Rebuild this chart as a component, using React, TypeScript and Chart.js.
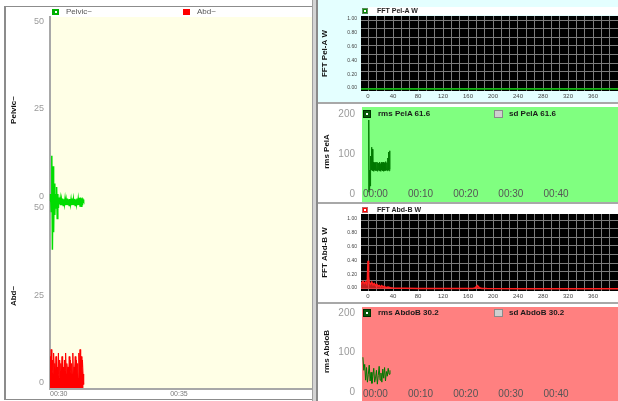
import React, { useEffect, useRef } from 'react';
import { Chart, registerables } from 'chart.js';

Chart.register(...registerables);
const FONT = '"Liberation Sans", Arial, Helvetica, sans-serif';
Chart.defaults.font.family = FONT;

// ---------------- data ----------------
// Left panel: Pelvic~ and Abd~ raw signals (time in seconds)
const leftTimeTicks = [30, 35];
const leftTimeLabels = ['00:30', '00:35'];
const leftValueTicks = [0, 25, 50];
const leftValueLabels = ['0', '25', '50'];
const sampleStart = 30;
const sampleStep = 0.025;
const pelvicValues = [
  0, 2, -3, 13, -14, 10, -9, 5, -4, 2, -2, 4, -5, 2, -2, 1, -1,
  0.6, -1.2, 0.4, -1.0, 0.7, -1.3, 0.5, -0.9, 0.6, -1.2,
  0.3, -1.1, 0.7, -1.0, 0.5, -1.3, 0.6, -0.9, 0.4, -1.2,
  0.7, -1.1, 0.5, -1.0, 0.6, -1.3, 0.4, -0.9, 0.7, -1.2,
  0.5, -1.1, 0.9, -1.4, 1.0, -1.5, 0.8, -1.2, 0.4, 0,
];
const abdValues = [
  9, 4, 11, 5, 8, 4, 10, 6, 7, 4,
  9, 5, 6, 4, 10, 3, 8, 5, 7, 4,
  9, 5, 6, 3, 8, 5, 10, 4, 7, 5,
  6, 3, 9, 5, 8, 4, 7, 4, 10, 3,
  6, 5, 9, 4, 8, 4, 7, 3, 10, 5,
  11, 5, 9, 6, 8, 4, 1,
];

// FFT panels
const fftFreqTicks = [0, 40, 80, 120, 160, 200, 240, 280, 320, 360];
const fftFreqLabels = ['0', '40', '80', '120', '160', '200', '240', '280', '320', '360'];
const fftPowerTicks = [0, 0.2, 0.4, 0.6, 0.8, 1];
const fftPowerLabels = ['0.00', '0.20', '0.40', '0.60', '0.80', '1.00'];
const fftPelFreq = [-12, 0, 100, 200, 300, 400];
const fftPelPower = [0, 0, 0, 0, 0, 0];
const fftAbdFreq = [
  -12, -10, -8, -6, -4, -2, -1, 0, 1, 2,
  4, 6, 8, 10, 12, 14, 16, 18, 20, 22,
  24, 26, 28, 32, 36, 40, 50, 60, 80, 100,
  140, 168, 172, 175, 178, 182, 190, 240, 300, 400,
];
const fftAbdPower = [
  0.06, 0.09, 0.11, 0.08, 0.1, 0.07, 0.15, 0.41, 0.18, 0.09,
  0.07, 0.1, 0.06, 0.08, 0.05, 0.07, 0.04, 0.05, 0.03, 0.05,
  0.03, 0.04, 0.02, 0.03, 0.02, 0.015, 0.01, 0.012, 0.008, 0.008,
  0.006, 0.008, 0.02, 0.05, 0.02, 0.008, 0.006, 0.005, 0.004, 0.004,
];

// RMS panels
const rmsTimeTicks = [0, 10, 20, 30, 40];
const rmsTimeLabels = ['00:00', '00:10', '00:20', '00:30', '00:40'];
const rmsValueTicks = [0, 100, 200];
const rmsValueLabels = ['0', '100', '200'];
const rmsPelStart = 1.2;
const rmsPelStep = 0.1;
const rmsPelValues = [
  5, 185, 10, 60, 20, 95, 60, 117,
  60, 112, 58,
  80, 57, 78, 60, 79, 58, 76, 59, 80, 57, 78, 60, 77, 58, 80, 59,
  76, 57, 79, 60, 78, 58, 80, 57, 77, 59, 79, 58, 81, 60, 78, 58,
  90, 60, 105, 58, 108, 62,
];
const rmsAbdStart = 0;
const rmsAbdStep = 0.2;
const rmsAbdValues = [
  88, 55, 70, 30, 62, 25, 45, 68, 28, 50,
  22, 40, 60, 25, 35, 55, 20, 42, 65, 30,
  48, 25, 58, 35, 62, 28, 52, 40, 60, 45, 55,
];

// ---------------- helpers ----------------
const series = (start: number, step: number, values: number[]) =>
  values.map((v, i) => ({ x: start + i * step, y: v }));
const pairs = (xs: number[], ys: number[]) => xs.map((x, i) => ({ x, y: ys[i] }));
const setTicks = (arr: number[]) => (s: any) => { s.ticks = arr.map((v) => ({ value: v })); };
const labelOf = (labels: string[]) => (_v: any, i: number) => (labels[i] ?? '');
const fixW = (w: number) => (s: any) => { s.width = w; s.paddingTop = 0; s.paddingBottom = 0; s.paddingLeft = 0; s.paddingRight = 0; };
const fixH = (h: number) => (s: any) => { s.height = h; s.paddingTop = 0; s.paddingBottom = 0; s.paddingLeft = 0; s.paddingRight = 0; };

const areaBg = {
  id: 'areaBg',
  beforeDraw(chart: any, _args: any, opts: any) {
    const a = chart.chartArea;
    if (!a || !opts || !opts.color) return;
    const ctx = chart.ctx;
    ctx.save();
    ctx.fillStyle = opts.color;
    const bottom = opts.toBottom ? chart.height : a.bottom;
    ctx.fillRect(a.left, a.top, a.right - a.left, bottom - a.top);
    ctx.restore();
  },
};

const baseOpts = {
  animation: false,
  responsive: false,
  devicePixelRatio: 1,
  events: [],
};

function buildLeft(): any {
  return {
    type: 'line',
    data: {
      datasets: [
        { data: series(sampleStart, sampleStep, pelvicValues), xAxisID: 'x', yAxisID: 'yP', borderColor: '#00DC00', borderWidth: 1.5, pointRadius: 0, fill: false, clip: false },
        { data: series(sampleStart, sampleStep, abdValues), xAxisID: 'x', yAxisID: 'yA', borderColor: '#FF0000', backgroundColor: '#FF0000', borderWidth: 1, pointRadius: 0, fill: 'origin' },
      ],
    },
    plugins: [areaBg],
    options: {
      ...baseOpts,
      layout: { padding: { top: 10, left: 0, right: 0, bottom: 0 } },
      plugins: { legend: { display: false }, tooltip: { enabled: false }, areaBg: { color: '#FFFFE6' } },
      scales: {
        x: {
          type: 'linear', min: 30, max: 40.9,
          afterBuildTicks: setTicks(leftTimeTicks),
          ticks: { autoSkip: false, maxRotation: 0, align: 'start', color: '#7a7a7a', font: { size: 7 }, padding: 1, callback: labelOf(leftTimeLabels) },
          grid: { display: false, drawTicks: false },
          border: { display: true, color: '#A8A8A8', width: 2 },
          afterFit: fixH(10),
        },
        yP: {
          type: 'linear', position: 'left', stack: 'lv', stackWeight: 1, weight: 2,
          min: -0.57, max: 52.87,
          afterBuildTicks: setTicks(leftValueTicks),
          ticks: { color: '#9a9a9a', font: { size: 9 }, padding: 6, labelOffset: -5, callback: labelOf(leftValueLabels) },
          grid: { display: false, drawTicks: false },
          border: { display: true, color: '#A8A8A8', width: 2 },
          title: { display: true, text: 'Pelvic~', color: '#111', font: { size: 8, weight: 'bold' }, padding: { top: 3, bottom: 0 } },
          afterFit: fixW(44),
        },
        yA: {
          type: 'linear', position: 'left', stack: 'lv', stackWeight: 1, weight: 1,
          min: -0.29, max: 52.86,
          afterBuildTicks: setTicks(leftValueTicks),
          ticks: { color: '#9a9a9a', font: { size: 9 }, padding: 6, labelOffset: -5, callback: labelOf(leftValueLabels) },
          grid: { display: false, drawTicks: false },
          border: { display: true, color: '#A8A8A8', width: 2 },
          title: { display: true, text: 'Abd~', color: '#111', font: { size: 8, weight: 'bold' }, padding: { top: 3, bottom: 0 } },
          afterFit: fixW(44),
        },
      },
    },
  };
}

function buildFft(freq: number[], power: number[], line: string, fillColor: string | null, title: string, padTop: number, yMax: number): any {
  const xMin = -11.2;
  const xMax = 400;
  const yMin = -0.029;
  return {
    type: 'line',
    data: {
      datasets: [
        { data: pairs(freq, power), xAxisID: 'x', yAxisID: 'y', borderColor: line, backgroundColor: fillColor || line, borderWidth: 1.5, pointRadius: 0, fill: fillColor ? 'origin' : false },
      ],
    },
    plugins: [areaBg],
    options: {
      ...baseOpts,
      layout: { padding: { top: padTop, left: 0, right: 0, bottom: 0 } },
      plugins: { legend: { display: false }, tooltip: { enabled: false }, areaBg: { color: '#000000' } },
      scales: {
        x: {
          type: 'linear', position: 'bottom', min: xMin, max: xMax,
          afterBuildTicks: setTicks(fftFreqTicks),
          ticks: { autoSkip: false, maxRotation: 0, color: '#444', font: { size: 6 }, padding: 2, callback: labelOf(fftFreqLabels) },
          grid: { display: false, drawTicks: false },
          border: { display: false },
          afterFit: fixH(11),
        },
        xg: {
          type: 'linear', position: 'bottom', min: xMin, max: xMax,
          ticks: { display: false, stepSize: 40 / 3, autoSkip: false, includeBounds: false },
          grid: { display: true, color: '#7C7C7C', lineWidth: 1, drawTicks: false },
          border: { display: false },
          afterFit: fixH(0),
        },
        y: {
          type: 'linear', position: 'left', min: yMin, max: yMax,
          afterBuildTicks: setTicks(fftPowerTicks),
          ticks: { color: '#444', font: { size: 5 }, padding: 4, labelOffset: -1, callback: labelOf(fftPowerLabels) },
          grid: { display: false, drawTicks: false },
          border: { display: false },
          title: { display: true, text: title, color: '#111', font: { size: 8, weight: 'bold' }, padding: { top: 2, bottom: 0 } },
          afterFit: fixW(43),
        },
        yg: {
          type: 'linear', position: 'left', min: yMin, max: yMax,
          ticks: { display: false, stepSize: 0.125, includeBounds: false },
          grid: { display: true, color: '#7C7C7C', lineWidth: 1, drawTicks: false },
          border: { display: false },
          afterFit: fixW(0),
        },
      },
    },
  };
}

function buildRms(start: number, step: number, values: number[], title: string, bg: string, yMin: number, yMax: number, xH: number): any {
  return {
    type: 'line',
    data: {
      datasets: [
        { data: series(start, step, values), xAxisID: 'x', yAxisID: 'y', borderColor: '#007800', borderWidth: 1, pointRadius: 0, fill: false },
      ],
    },
    plugins: [areaBg],
    options: {
      ...baseOpts,
      layout: { padding: { top: 3, left: 0, right: 0, bottom: 0 } },
      plugins: { legend: { display: false }, tooltip: { enabled: false }, areaBg: { color: bg, toBottom: true } },
      scales: {
        x: {
          type: 'linear', min: -0.2, max: 56.5,
          afterBuildTicks: setTicks(rmsTimeTicks),
          ticks: { autoSkip: false, maxRotation: 0, align: 'start', mirror: true, color: '#555', font: { size: 10 }, padding: -4, callback: labelOf(rmsTimeLabels) },
          grid: { display: false, drawTicks: false },
          border: { display: false },
          afterFit: fixH(xH),
        },
        y: {
          type: 'linear', position: 'left', min: yMin, max: yMax,
          afterBuildTicks: setTicks(rmsValueTicks),
          ticks: { color: '#9a9a9a', font: { size: 10 }, padding: 7, callback: labelOf(rmsValueLabels) },
          grid: { display: false, drawTicks: false },
          border: { display: false },
          title: { display: true, text: title, color: '#111', font: { size: 8, weight: 'bold' }, padding: { top: 4, bottom: 0 } },
          afterFit: fixW(44),
        },
      },
    },
  };
}

const makeFftPel = () => buildFft(fftPelFreq, fftPelPower, '#00C000', null, 'FFT Pel-A W', 16, 1.058);
const makeRmsPel = () => buildRms(rmsPelStart, rmsPelStep, rmsPelValues, 'rms PelA', '#80FF80', -5, 217.5, 6);
const makeFftAbd = () => buildFft(fftAbdFreq, fftAbdPower, '#FF2020', 'rgba(255,40,40,0.75)', 'FFT Abd-B W', 10, 1.087);
const makeRmsAbd = () => buildRms(rmsAbdStart, rmsAbdStep, rmsAbdValues, 'rms AbdoB', '#FF8080', -10, 215, 5);

// ---------------- components ----------------
function ChartCanvas({ left, top, width, height, build, bg }: { left: number; top: number; width: number; height: number; build: () => any; bg?: string }) {
  const ref = useRef<HTMLCanvasElement | null>(null);
  useEffect(() => {
    if (!ref.current) return;
    const chart = new Chart(ref.current, build());
    return () => chart.destroy();
  }, [build]);
  return (
    <canvas
      ref={ref}
      width={width}
      height={height}
      style={{ position: 'absolute', left, top, width, height, background: bg || 'transparent', display: 'block' }}
    />
  );
}

function Swatch({ left, top, w, h, color, border, dot }: { left: number; top: number; w: number; h: number; color: string; border?: string; dot?: boolean }) {
  return (
    <div style={{ position: 'absolute', left, top, width: w, height: h, background: color, boxSizing: 'border-box', border: border ? `1px solid ${border}` : 'none' }}>
      {dot ? <div style={{ position: 'absolute', left: '50%', top: '50%', width: 2, height: 2, marginLeft: -1, marginTop: -1, background: '#fff' }} /> : null}
    </div>
  );
}

function Label({ left, top, text, size, color, bold }: { left: number; top: number; text: string; size: number; color: string; bold?: boolean }) {
  return (
    <div style={{ position: 'absolute', left, top, fontSize: size, lineHeight: `${size + 2}px`, color, fontWeight: bold ? 'bold' : 'normal', whiteSpace: 'nowrap', fontFamily: FONT }}>
      {text}
    </div>
  );
}

export default function App() {
  return (
    <div style={{ position: 'fixed', left: 0, top: 0, width: 618, height: 401, background: '#fff', overflow: 'hidden', fontFamily: FONT }}>
      {/* left panel frame */}
      <div style={{ position: 'absolute', left: 4, top: 6, width: 309, height: 394, boxSizing: 'border-box', borderLeft: '2px solid #8c8c8c', borderTop: '1px solid #8c8c8c', borderBottom: '1px solid #8c8c8c' }} />
      <ChartCanvas left={6} top={7} width={306} height={392} build={buildLeft} />
      <Swatch left={52} top={9} w={7} h={6} color="#00B000" dot />
      <Label left={66} top={7} text="Pelvic~" size={8} color="#555" />
      <Swatch left={183} top={9} w={7} h={6} color="#FF0000" />
      <Label left={197} top={7} text="Abd~" size={8} color="#555" />

      {/* column divider */}
      <div style={{ position: 'absolute', left: 312, top: 0, width: 6, height: 401, boxSizing: 'border-box', background: '#d4d4d4', borderLeft: '1px solid #a0a0a0', borderRight: '2px solid #8a8a8a' }} />

      {/* FFT Pel-A W */}
      <ChartCanvas left={318} top={0} width={300} height={102} build={makeFftPel} bg="#E4FFFF" />
      <div style={{ position: 'absolute', left: 368, top: 7, width: 250, height: 8, background: '#fff' }} />
      <Swatch left={362} top={8} w={6} h={6} color="#008800" border="#5a8a5a" dot />
      <Label left={377} top={6} text="FFT Pel-A W" size={7} color="#222" bold />
      <div style={{ position: 'absolute', left: 318, top: 102, width: 300, height: 2, background: '#a8a8a8' }} />

      {/* rms PelA */}
      <ChartCanvas left={318} top={104} width={300} height={98} build={makeRmsPel} bg="#fff" />
      <Swatch left={363} top={110} w={8} h={8} color="#0a5a0a" border="#003000" dot />
      <Label left={378} top={109} text="rms PelA 61.6" size={8} color="#1a1a1a" bold />
      <Swatch left={494} top={110} w={9} h={8} color="#cfcfcf" border="#8a8a8a" />
      <Label left={509} top={109} text="sd PelA 61.6" size={8} color="#1a1a1a" bold />
      <div style={{ position: 'absolute', left: 318, top: 202, width: 300, height: 2, background: '#a8a8a8' }} />

      {/* FFT Abd-B W */}
      <ChartCanvas left={318} top={204} width={300} height={98} build={makeFftAbd} bg="#fff" />
      <div style={{ position: 'absolute', left: 368, top: 206, width: 250, height: 8, background: '#fff' }} />
      <Swatch left={362} top={207} w={6} h={6} color="#FF0000" border="#c06060" dot />
      <Label left={377} top={205} text="FFT Abd-B W" size={7} color="#222" bold />
      <div style={{ position: 'absolute', left: 318, top: 302, width: 300, height: 2, background: '#a8a8a8' }} />

      {/* rms AbdoB */}
      <ChartCanvas left={318} top={304} width={300} height={97} build={makeRmsAbd} bg="#fff" />
      <Swatch left={363} top={309} w={8} h={8} color="#0a5a0a" border="#003000" dot />
      <Label left={378} top={308} text="rms AbdoB 30.2" size={8} color="#1a1a1a" bold />
      <Swatch left={494} top={309} w={9} h={8} color="#cfcfcf" border="#8a8a8a" />
      <Label left={509} top={308} text="sd AbdoB 30.2" size={8} color="#1a1a1a" bold />
    </div>
  );
}
